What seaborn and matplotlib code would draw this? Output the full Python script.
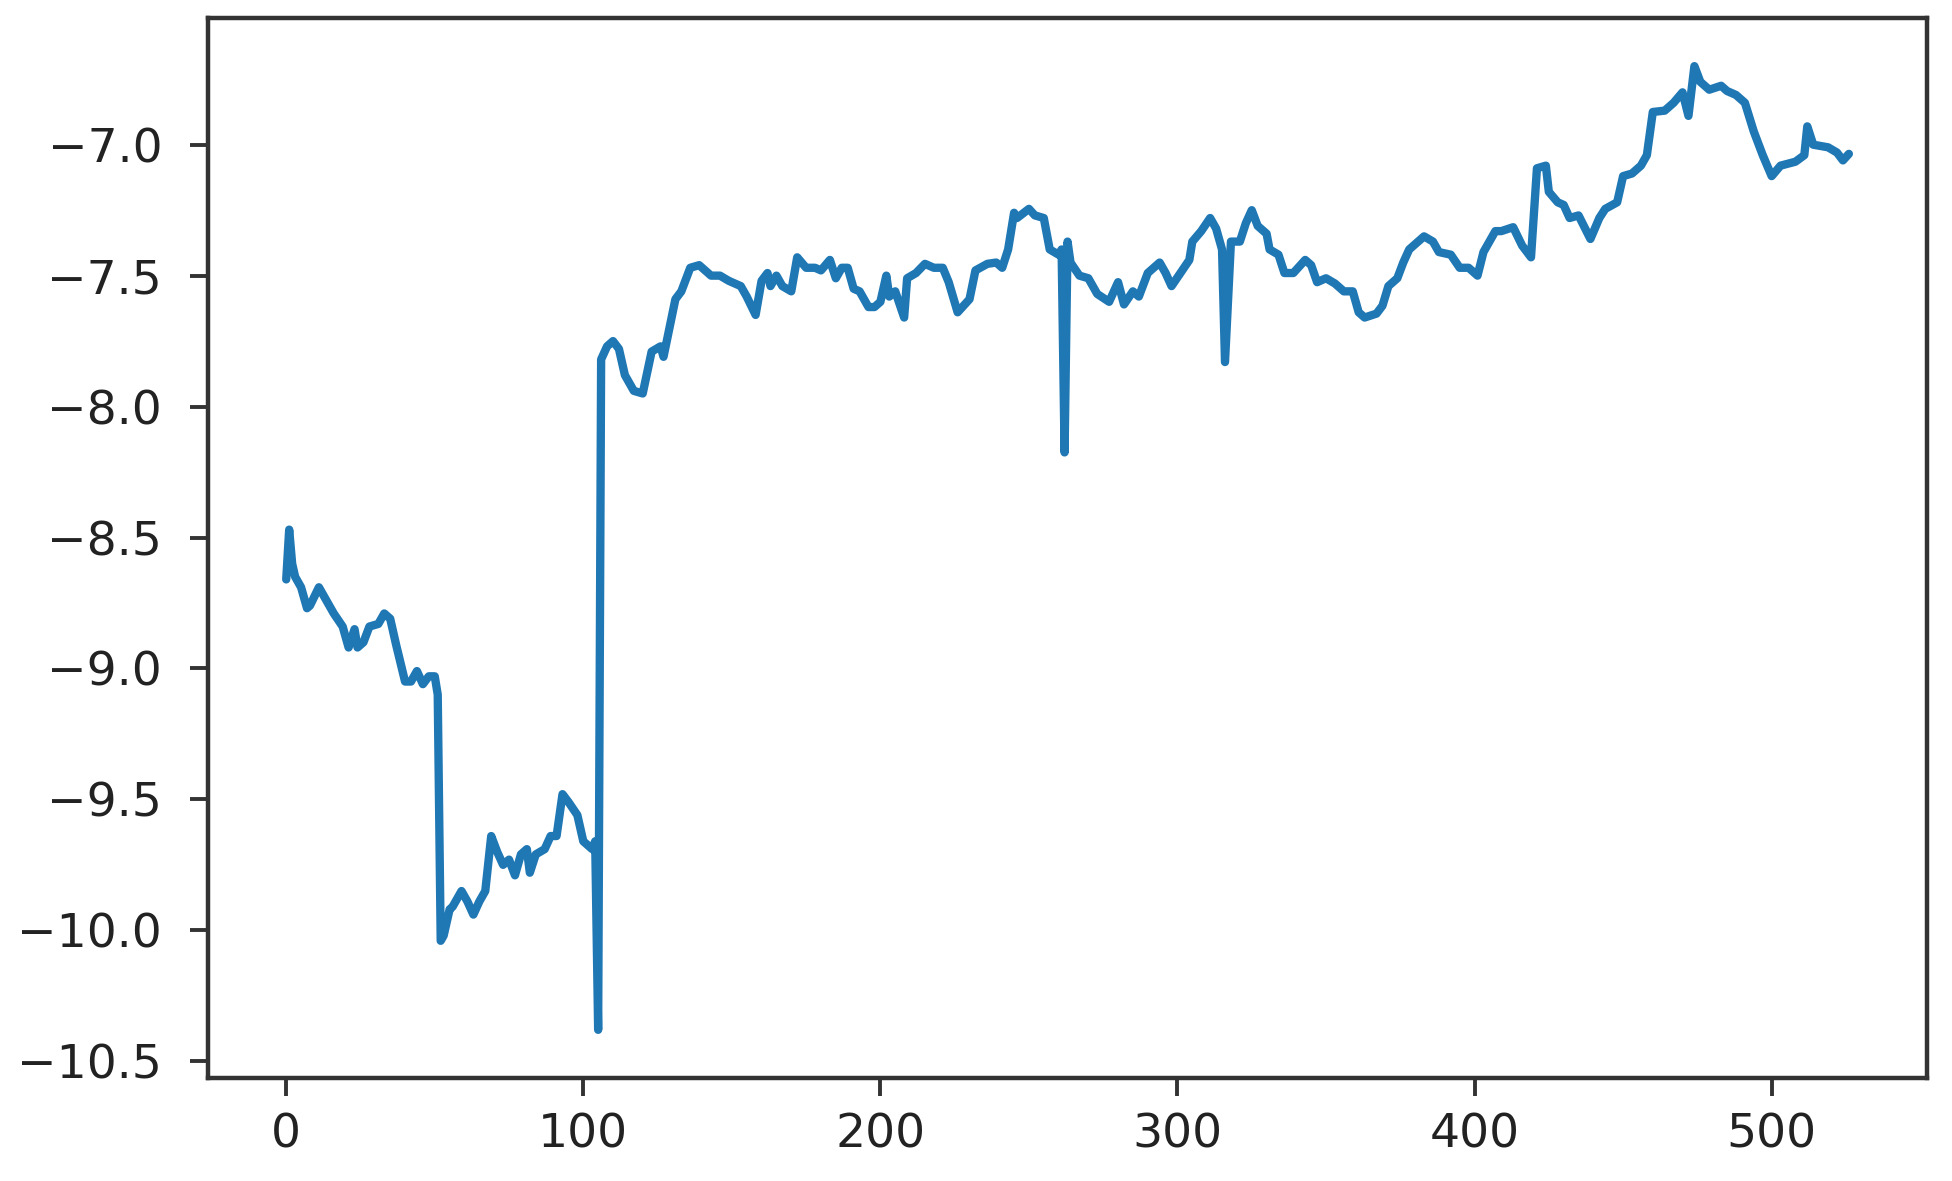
import matplotlib
matplotlib.use("Agg")
import matplotlib.pyplot as plt
import seaborn as sns
import pandas as pd

# Sample index (x) of each traced vertex and its value (y)
x_idx = [0, 1, 2, 3, 5, 7, 8, 11, 13, 16, 19, 21, 23, 24, 26, 28, 31, 33, 35, 37,
         40, 42, 44, 46, 48, 50, 51, 52, 53, 55, 56, 59, 61, 63, 65, 67, 69, 71, 73, 75,
         77, 79, 81, 82, 84, 87, 89, 91, 93, 95, 98, 100, 103, 104, 105, 106, 108, 110, 112, 114,
         117, 120, 123, 126, 127, 131, 133, 136, 139, 143, 146, 149, 153, 155, 158, 160, 162, 163, 165, 167,
         170, 172, 175, 178, 180, 183, 185, 187, 189, 191, 193, 196, 198, 200, 202, 203, 205, 208, 209, 212,
         215, 218, 221, 223, 226, 228, 230, 232, 236, 239, 241, 243, 245, 246, 250, 252, 255, 257, 260, 261,
         262, 263, 264, 267, 270, 273, 277, 280, 282, 285, 287, 290, 294, 296, 298, 301, 304, 305, 308, 311,
         313, 315, 316, 318, 321, 323, 325, 327, 330, 331, 334, 336, 339, 343, 345, 347, 350, 353, 356, 359,
         361, 363, 367, 369, 371, 374, 376, 378, 383, 386, 388, 392, 395, 398, 401, 403, 407, 409, 413, 416,
         419, 421, 424, 425, 428, 430, 432, 435, 437, 439, 442, 444, 448, 450, 453, 456, 458, 460, 464, 467,
         470, 472, 474, 476, 479, 483, 485, 488, 491, 494, 497, 500, 503, 508, 511, 512, 514, 519, 522, 524,
         526]
values = [-8.66, -8.47, -8.60, -8.65, -8.69, -8.77, -8.76, -8.69, -8.73, -8.79, -8.84, -8.92, -8.85, -8.92, -8.90, -8.84, -8.83, -8.79, -8.81, -8.91,
          -9.05, -9.05, -9.01, -9.06, -9.03, -9.03, -9.10, -10.04, -10.02, -9.92, -9.91, -9.85, -9.89, -9.94, -9.89, -9.85, -9.64, -9.70, -9.75, -9.73,
          -9.79, -9.71, -9.69, -9.78, -9.71, -9.69, -9.64, -9.64, -9.48, -9.51, -9.56, -9.66, -9.69, -9.66, -10.38, -7.82, -7.77, -7.75, -7.78, -7.88,
          -7.94, -7.95, -7.79, -7.77, -7.81, -7.59, -7.56, -7.47, -7.46, -7.50, -7.50, -7.52, -7.54, -7.58, -7.65, -7.52, -7.49, -7.54, -7.50, -7.54,
          -7.56, -7.43, -7.47, -7.47, -7.48, -7.44, -7.51, -7.47, -7.47, -7.55, -7.56, -7.62, -7.62, -7.60, -7.50, -7.58, -7.56, -7.66, -7.51, -7.49,
          -7.455, -7.47, -7.47, -7.525, -7.64, -7.615, -7.59, -7.48, -7.455, -7.45, -7.47, -7.40, -7.26, -7.28, -7.245, -7.27, -7.28, -7.40, -7.42, -7.40,
          -8.175, -7.37, -7.45, -7.50, -7.51, -7.57, -7.60, -7.525, -7.61, -7.56, -7.58, -7.49, -7.45, -7.49, -7.54, -7.49, -7.44, -7.37, -7.33, -7.28,
          -7.32, -7.40, -7.83, -7.37, -7.37, -7.30, -7.25, -7.31, -7.34, -7.40, -7.42, -7.49, -7.49, -7.44, -7.46, -7.525, -7.51, -7.53, -7.56, -7.56,
          -7.64, -7.66, -7.645, -7.615, -7.54, -7.51, -7.45, -7.40, -7.35, -7.37, -7.41, -7.42, -7.47, -7.47, -7.50, -7.41, -7.33, -7.33, -7.315, -7.385,
          -7.43, -7.09, -7.08, -7.18, -7.22, -7.23, -7.28, -7.27, -7.315, -7.36, -7.28, -7.245, -7.22, -7.12, -7.11, -7.08, -7.04, -6.875, -6.87, -6.84,
          -6.80, -6.89, -6.70, -6.76, -6.79, -6.775, -6.795, -6.81, -6.84, -6.95, -7.04, -7.12, -7.08, -7.065, -7.04, -6.93, -7.00, -7.01, -7.03, -7.06,
          -7.035]

df = pd.DataFrame({"x": x_idx, "y": values})

sns.set_style("ticks")
plt.rcParams["font.family"] = ["DejaVu Sans"]

fig = plt.figure(figsize=(19.52, 11.81), dpi=100)
ax = fig.add_axes([0.1066, 0.0872, 0.8806, 0.8976])

sns.lineplot(data=df, x="x", y="y", ax=ax, color="#1f77b4", linewidth=6.0)

ax.set_xlabel("")
ax.set_ylabel("")
ax.set_xticks([0, 100, 200, 300, 400, 500])
ax.set_yticks([-7.0, -7.5, -8.0, -8.5, -9.0, -9.5, -10.0, -10.5])
ax.margins(x=0.05, y=0.05)

for s in ax.spines.values():
    s.set_visible(True)
    s.set_color("#333333")
    s.set_linewidth(3.2)
ax.tick_params(axis="both", direction="out", length=13, width=2.8,
               color="#333333", labelsize=34, labelcolor="#222222")
ax.tick_params(axis="x", pad=12)
ax.tick_params(axis="y", pad=20)

fig.savefig("out.png", dpi=100, facecolor="white")
